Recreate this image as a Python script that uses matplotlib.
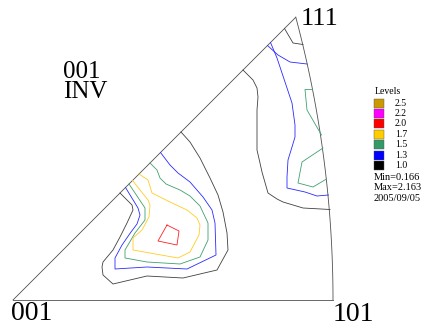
import matplotlib
matplotlib.use('Agg')
import matplotlib.pyplot as plt
from matplotlib.patches import Rectangle
import numpy as np

plt.rcParams['font.family'] = ['Liberation Serif', 'DejaVu Serif']

# legend levels, top to bottom
levels = ['2.5', '2.2', '2.0', '1.7', '1.5', '1.3', '1.0']
level_colors = ['#cc9900', '#ff00ff', '#ff0000', '#ffcc00', '#339966', '#0000ff', '#000000']
stats = ['Min=0.166', 'Max=2.163', '2005/09/05']

# contour traces, plot units: 001 at (0, 0), 101 at (320, 0)
c10_left = [(168, 168), (177, 158), (187, 142), (197, 122), (205, 105), (210, 88), (214, 67),
            (215, 50), (204, 30), (170, 22), (134, 24), (100, 16), (90, 25), (89, 33), (90, 38),
            (100, 50), (107, 63), (114, 77), (120, 90), (119, 95), (107, 107)]
c10_right = [(230, 230), (240, 220), (244, 212), (245, 203), (244, 190), (244, 150), (247, 137),
             (249, 128), (255, 107), (264, 101), (270, 98), (290, 92), (317, 90.5)]
c10_top = [(271.5, 271.5), (280, 257), (290, 255.5)]
c13_left = [(112.5, 112.5), (125, 92), (127, 85), (124, 76), (118, 68), (109, 55), (102, 42),
            (102, 31), (134, 33), (174, 31), (203, 45), (202, 77), (199, 90), (190, 103),
            (177, 118), (165, 127), (157, 135), (147.5, 147.5)]
c13_top = [(254.5, 254.5), (265, 245), (277, 238), (294, 236)]
c13_right = [(257.5, 257.5), (264, 242), (269, 227), (274, 212), (279, 197), (282, 175),
             (282, 163), (279, 153), (275, 140), (274, 123), (274, 112), (292, 108),
             (304, 104), (315.5, 105)]
c15_left = [(116, 116), (132, 92), (132, 80), (122, 67), (112, 50), (112, 42), (134, 38),
            (167, 36), (187, 43), (195, 60), (195, 77), (187, 94), (177, 104), (167, 110),
            (153, 116), (147, 122), (144, 130), (137, 137)]
c15_upper = [(299.5, 210.5), (292, 210.5), (294, 190), (308.5, 165)]
c15_lower = [(310, 152), (289, 138), (285, 117), (300, 113), (313.5, 121)]
c17_left = [(119.5, 119.5), (135, 100), (137, 95), (136, 83), (129, 70), (120, 62), (120, 50),
            (165, 42), (177, 48), (186, 65), (187, 75), (184, 82), (174, 90), (157, 98),
            (139, 107), (135, 120), (126, 126)]
c20_left = [(154, 75), (166, 69), (164, 55), (145, 59), (154, 75)]

contours = [
    ('1.0', c10_left), ('1.0', c10_right), ('1.0', c10_top),
    ('1.3', c13_left), ('1.3', c13_top), ('1.3', c13_right),
    ('1.5', c15_left), ('1.5', c15_upper), ('1.5', c15_lower),
    ('1.7', c17_left),
    ('2.0', c20_left),
]

# stereographic standard triangle 001-101-111
R = 320 / np.tan(np.pi / 8)
t = np.linspace(0, 1, 60)
v = np.stack([np.ones_like(t), t, np.ones_like(t)]) / np.sqrt(2 + t ** 2)
arc_x = R * v[0] / (1 + v[2])
arc_y = R * v[1] / (1 + v[2])
p111 = arc_x[-1]

fig = plt.figure(figsize=(4.43, 3.27), dpi=100)
ax = fig.add_axes([0, 0, 1, 1])
ax.set_xlim(-13, 430)
ax.set_ylim(-27, 300)
ax.axis('off')

edge_color = '#505050'
ax.plot([0, arc_x[0]], [0, 0], color=edge_color, lw=0.6)
ax.plot(arc_x, arc_y, color=edge_color, lw=0.6)
ax.plot([0, p111], [0, p111], color=edge_color, lw=0.6)

line_colors = {'1.0': '#404040', '1.3': '#2a2aff', '1.5': '#40a070',
               '1.7': '#ffcc22', '2.0': '#ff2020'}
for lev, pts in contours:
    xs, ys = zip(*pts)
    ax.plot(xs, ys, color=line_colors[lev], lw=0.6)

ax.text(-2, -20, '001', fontsize=20, ha='left', va='baseline')
ax.text(320, -21, '101', fontsize=20, ha='left', va='baseline')
ax.text(288, 275, '111', fontsize=19, ha='left', va='baseline')
ax.text(50, 222, '001', fontsize=18, ha='left', va='baseline')
ax.text(50, 202, 'INV', fontsize=18, ha='left', va='baseline')

# legend
lx, ly0, step = 361, 197, 10.4
ax.text(lx + 1, ly0 + 11, 'Levels', fontsize=7, ha='left', va='center')
for i, (lab, col) in enumerate(zip(levels, level_colors)):
    y = ly0 - i * step
    ax.add_patch(Rectangle((lx, y - 4.5), 10, 9, facecolor=col, edgecolor='#555555', lw=0.3))
    ax.text(lx + 21, y, lab, fontsize=7, ha='left', va='center')
for j, s in enumerate(stats):
    ax.text(lx, ly0 - 6 * step - 12 - j * 10.5, s, fontsize=7.5, ha='left', va='center')

fig.savefig('out.png', dpi=100)
